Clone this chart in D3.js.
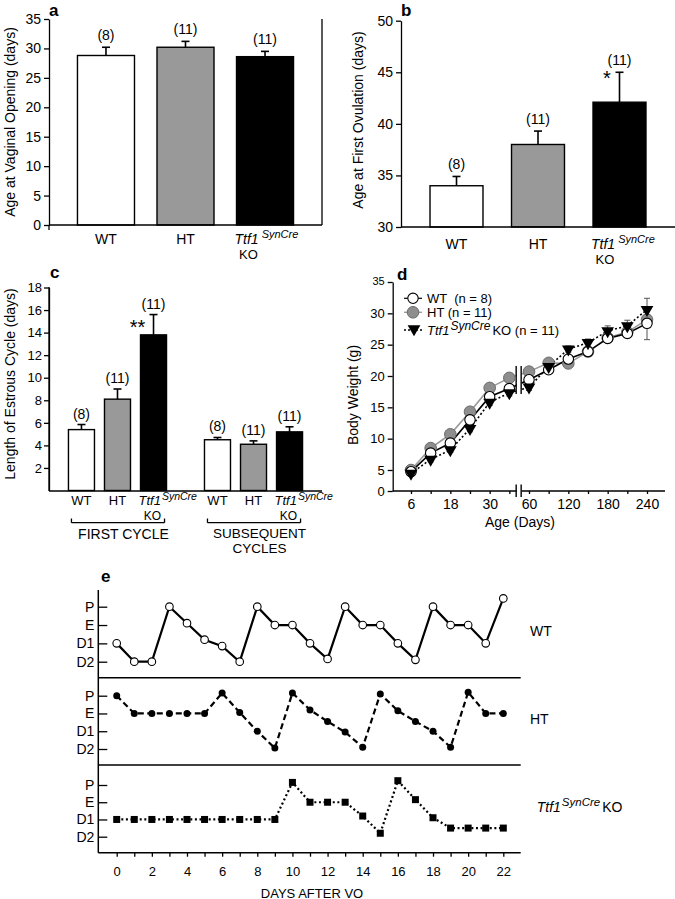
<!DOCTYPE html>
<html><head><meta charset="utf-8">
<script src="https://cdn.jsdelivr.net/npm/d3@7"></script>
<style>body{margin:0;background:#fff}svg{display:block;font-family:"Liberation Sans",Arial,Helvetica,sans-serif}</style>
</head><body><script>
// ---------- data ----------
const genotypes = ["WT", "HT", "KO"];
const nLabels = ["(8)", "(11)", "(11)"];
// a: age at vaginal opening
const vaginalOpening = [28.8, 30.2, 28.6];
const vaginalOpeningErr = [1.4, 1.0, 0.9];
// b: age at first ovulation
const firstOvulation = [34.0, 38.0, 42.1];
const firstOvulationErr = [0.9, 1.3, 2.9];
const ovulationSig = ["", "", "*"];
// c: length of estrous cycle
const cycleGroups = ["FIRST CYCLE", "SUBSEQUENT CYCLES"];
const firstCycle = [5.4, 8.1, 13.8];
const firstCycleErr = [0.45, 0.9, 1.8];
const firstCycleSig = ["", "", "**"];
const subsequentCycles = [4.5, 4.1, 5.2];
const subsequentCyclesErr = [0.2, 0.3, 0.45];
const subsequentSig = ["", "", ""];
// d: body weight
const ages = ["6", "12", "18", "24", "30", "36", "60", "90", "120", "150", "180", "210", "240"];
const ageTickLabels = ["6", "18", "30", "60", "120", "180", "240"];
const weightWT = [4.6, 7.7, 9.3, 13.0, 16.7, 18.0, 19.4, 21.0, 22.7, 23.9, 26.0, 26.8, 28.4];
const weightWTErr = [0.3, 0.4, 0.4, 0.5, 0.5, 0.5, 0.5, 0.5, 0.5, 0.5, 0.6, 0.6, 2.6];
const weightHT = [5.0, 8.5, 10.7, 14.3, 18.1, 19.7, 20.7, 22.1, 22.0, 23.9, 26.1, 27.0, 29.0];
const weightHTErr = [0.3, 0.4, 0.4, 0.5, 0.5, 0.5, 0.5, 0.5, 0.5, 0.5, 0.6, 0.6, 0.8];
const weightKO = [4.2, 6.7, 8.2, 11.6, 15.8, 17.3, 18.2, 21.5, 24.3, 25.3, 27.2, 28.0, 30.6];
const weightKOErr = [0.3, 0.4, 0.4, 0.5, 0.5, 0.5, 0.5, 0.5, 0.5, 0.6, 0.8, 0.9, 1.8];
// e: estrous stages after VO (0 = D2, 1 = D1, 2 = E, 3 = P)
const daysAfterVO = [0, 1, 2, 3, 4, 5, 6, 7, 8, 9, 10, 11, 12, 13, 14, 15, 16, 17, 18, 19, 20, 21, 22];
const stageNames = ["D2", "D1", "E", "P"];
const stageValues = [0, 1, 2, 3];
const stageWT = [1, 0, 0, 3, 2.1, 1.2, 0.85, 0, 3, 2, 2, 1, 0.15, 3, 2, 2, 1, 0.1, 3, 2, 2, 1, 3.45];
const stageHT = [3, 2, 2, 2, 2, 2, 3.15, 2.05, 1, 0.05, 3.15, 2.2, 1.55, 0.95, 0.1, 3.1, 2.15, 1.55, 1, 0.1, 3.2, 2, 2];
const stageKO = [1, 1, 1, 1, 1, 1, 1, 1, 1, 1, 3.15, 2, 2, 2, 1.2, 0.2, 3.25, 2.15, 1.1, 0.5, 0.5, 0.5, 0.5];

// ---------- setup ----------
const svg = d3.select("body").append("svg").attr("width", 675).attr("height", 899);
const fills = {WT: "#fff", HT: "#999", KO: "#000"};

function styleAxis(g, size) {
  g.attr("font-size", size).attr("font-family", null);
  g.selectAll("path,line").attr("stroke", "#000").attr("stroke-width", 1.3);
  g.selectAll("text").attr("fill", "#000");
  return g;
}
function hline(x1, x2, y, w) {
  svg.append("line").attr("x1", x1).attr("x2", x2).attr("y1", y).attr("y2", y)
    .attr("stroke", "#000").attr("stroke-width", w || 1.3);
}
function vline(x, y1, y2, w, col) {
  svg.append("line").attr("x1", x).attr("x2", x).attr("y1", y1).attr("y2", y2)
    .attr("stroke", col || "#000").attr("stroke-width", w || 1.3);
}
function text(x, y, s, opts) {
  opts = opts || {};
  const t = svg.append("text").attr("x", x).attr("y", y).text(s)
    .attr("font-size", opts.size || 14).attr("text-anchor", opts.anchor || "start").attr("fill", "#000");
  if (opts.bold) t.attr("font-weight", "bold");
  if (opts.rotate) t.attr("transform", `rotate(-90 ${x} ${y})`);
  return t;
}
function ttfText(x, y, size, supSize, dx, rest) {
  const t = svg.append("text").attr("x", x).attr("y", y).attr("font-size", size).attr("fill", "#000");
  t.append("tspan").attr("font-style", "italic").text("Ttf1");
  t.append("tspan").attr("font-style", "italic").attr("font-size", supSize).attr("dx", dx).attr("dy", -size * 0.42).text("SynCre");
  if (rest) t.append("tspan").attr("dy", size * 0.42).attr("dx", 2).style("white-space", "pre").text(rest);
  return t;
}
function catLabels(xScale, baseline, size, supSize, supDx) {
  genotypes.forEach(c => {
    if (c === "KO") {
      const x0 = xScale(c);
      ttfText(x0 - 2, baseline, size, supSize, supDx);
      text(x0 + 12, baseline + 14.5, "KO", {size: size - 1, anchor: "middle"});
    } else {
      text(xScale(c) + xScale.bandwidth() / 2, baseline, c, {size, anchor: "middle"});
    }
  });
}
function bars(xScale, y, base, vals, errs, sig, nOff, sigOff) {
  const data = genotypes.map((c, i) => ({c, v: vals[i], e: errs[i], n: nLabels[i], s: sig ? sig[i] : ""}));
  const g = svg.append("g");
  const bw = xScale.bandwidth();
  g.selectAll("line.err").data(data).join("line").attr("class", "err")
    .attr("x1", d => xScale(d.c) + bw / 2).attr("x2", d => xScale(d.c) + bw / 2)
    .attr("y1", d => y(d.v)).attr("y2", d => y(d.v + d.e)).attr("stroke", "#000").attr("stroke-width", 1.6);
  g.selectAll("line.cap").data(data).join("line").attr("class", "cap")
    .attr("x1", d => xScale(d.c) + bw / 2 - 4).attr("x2", d => xScale(d.c) + bw / 2 + 4)
    .attr("y1", d => y(d.v + d.e)).attr("y2", d => y(d.v + d.e)).attr("stroke", "#000").attr("stroke-width", 1.6);
  g.selectAll("rect").data(data).join("rect")
    .attr("x", d => xScale(d.c)).attr("width", bw)
    .attr("y", d => y(d.v)).attr("height", d => y(base) - y(d.v))
    .attr("fill", d => fills[d.c]).attr("stroke", "#000").attr("stroke-width", 1.4);
  g.selectAll("text.n").data(data).join("text").attr("class", "n")
    .attr("x", d => xScale(d.c) + bw / 2).attr("y", d => y(d.v + d.e) - nOff)
    .attr("text-anchor", "middle").attr("font-size", 14).text(d => d.n);
  g.selectAll("text.sig").data(data.filter(d => d.s)).join("text").attr("class", "sig")
    .attr("x", d => xScale(d.c) + bw / 2 - sigOff[0]).attr("y", d => y(d.v + d.e) + sigOff[1])
    .attr("text-anchor", "middle").attr("font-size", 20).text(d => d.s);
}

// ---------- panel a ----------
{
  const y = d3.scaleLinear().domain([0, 35]).range([225, 19]);
  const x = d3.scaleBand().domain(genotypes).range([49, 322]).paddingInner(0.283).paddingOuter(0.358);
  bars(x, y, 0, vaginalOpening, vaginalOpeningErr, null, 7, [0, 0]);
  styleAxis(svg.append("g").attr("transform", "translate(49,0)")
    .call(d3.axisLeft(y).tickValues([0, 5, 10, 15, 20, 25, 30, 35]).tickSize(5).tickSizeOuter(0).tickPadding(3)), 14);
  hline(49, 322, 225);
  vline(49, 225, 230);
  vline(322, 19, 225);
  catLabels(x, 244, 14, 11, 3);
  text(49, 16, "a", {size: 17, bold: true});
  text(15, 122, "Age at Vaginal Opening (days)", {size: 14, anchor: "middle", rotate: true});
}
// ---------- panel b ----------
{
  const y = d3.scaleLinear().domain([30, 50]).range([227, 20.7]);
  const x = d3.scaleBand().domain(genotypes).range([401, 675]).paddingInner(0.35).paddingOuter(0.356);
  bars(x, y, 30, firstOvulation, firstOvulationErr, ovulationSig, 7, [12.5, 13]);
  styleAxis(svg.append("g").attr("transform", "translate(401,0)")
    .call(d3.axisLeft(y).tickValues([30, 35, 40, 45, 50]).tickSize(5).tickSizeOuter(0).tickPadding(3)), 14);
  hline(401, 675, 227);
  catLabels(x, 249, 14, 11, 3);
  text(401, 16, "b", {size: 17, bold: true});
  text(363, 120, "Age at First Ovulation (days)", {size: 14, anchor: "middle", rotate: true});
}
// ---------- panel c ----------
{
  const y = d3.scaleLinear().domain([0, 18]).range([490.5, 287.5]);
  const outer = d3.scaleBand().domain(cycleGroups).range([49, 322]).paddingInner(0.279).paddingOuter(0.143);
  const sets = [[firstCycle, firstCycleErr, firstCycleSig], [subsequentCycles, subsequentCyclesErr, subsequentSig]];
  cycleGroups.forEach((gName, gi) => {
    const o = outer(gName);
    const inner = d3.scaleBand().domain(genotypes).range([o, o + outer.bandwidth()]).paddingInner(0.278).paddingOuter(0);
    bars(inner, y, 0, sets[gi][0], sets[gi][1], sets[gi][2], 6, [16, 19]);
    catLabels(inner, 505, 13, 10.5, 1);
    // bracket
    const bx1 = o + 3, bx2 = o + outer.bandwidth() - 2;
    hline(bx1, bx2, 522.7, 1.3);
    vline(bx1, 518.5, 522.7);
    vline(bx2, 518.5, 522.7);
  });
  const c1 = outer(cycleGroups[0]) + outer.bandwidth() / 2;
  const c2 = outer(cycleGroups[1]) + outer.bandwidth() / 2;
  text(c1 + 6, 539, "FIRST CYCLE", {size: 14, anchor: "middle"});
  text(c2 + 6, 537.5, "SUBSEQUENT", {size: 13.5, anchor: "middle"});
  text(c2 + 6, 553, "CYCLES", {size: 13.5, anchor: "middle"});
  styleAxis(svg.append("g").attr("transform", "translate(49,0)")
    .call(d3.axisLeft(y).tickValues([2, 4, 6, 8, 10, 12, 14, 16, 18]).tickSize(5).tickSizeOuter(0).tickPadding(2)), 13);
  vline(49, 287, 491);
  hline(49, 322, 491);
  text(50, 278, "c", {size: 17, bold: true});
  text(15, 384, "Length of Estrous Cycle (days)", {size: 14, anchor: "middle", rotate: true});
}
// ---------- panel d ----------
{
  const y = d3.scaleLinear().domain([0, 5, 35]).range([491, 470, 282]);
  const x = d3.scalePoint().domain(ages).range([411, 647]);
  const ax = styleAxis(svg.append("g").attr("transform", "translate(392.7,0)")
    .call(d3.axisLeft(y).tickValues([0, 5, 10, 15, 20, 25, 30, 35]).tickSize(5).tickSizeOuter(0).tickPadding(3)), 13);
  ax.selectAll(".tick text").filter(d => d === 35).attr("font-size", 11).attr("dy", "0.2em");
  const bx = styleAxis(svg.append("g").attr("transform", "translate(0,491)")
    .call(d3.axisBottom(x).tickSize(3).tickSizeOuter(0).tickPadding(5)
      .tickFormat(d => ageTickLabels.includes(d) ? d : "")), 14);
  bx.select(".domain").remove();
  hline(392.7, 665, 491);
  // x-axis break
  const brk = (x("36") + x("60")) / 2;
  svg.append("rect").attr("x", brk - 2.5).attr("y", 484).attr("width", 5).attr("height", 12).attr("fill", "#fff");
  vline(brk - 3, 484.5, 497, 1.4);
  vline(brk + 2, 484.5, 497, 1.4);

  const series = [
    {vals: weightHT, errs: weightHTErr, line: "#9a9a9a", dash: null},
    {vals: weightWT, errs: weightWTErr, line: "#000", dash: null},
    {vals: weightKO, errs: weightKOErr, line: "#000", dash: "2,2.2"}
  ];
  const line = d3.line().x((d, i) => x(ages[i])).y(d => y(d));
  series.forEach(s => {
    svg.append("path").attr("d", line(s.vals)).attr("fill", "none").attr("stroke", s.line)
      .attr("stroke-width", 1.6).attr("stroke-dasharray", s.dash);
  });
  // data-line break
  svg.append("rect").attr("x", brk - 2.5).attr("y", 366).attr("width", 5).attr("height", 28).attr("fill", "#fff");
  vline(brk - 3, 366, 394, 1.4);
  vline(brk + 2, 366, 394, 1.4);

  const errG = svg.append("g");
  series.forEach(s => {
    s.vals.forEach((v, i) => {
      const cx = x(ages[i]);
      errG.append("line").attr("x1", cx).attr("x2", cx).attr("y1", y(v - s.errs[i])).attr("y2", y(v + s.errs[i]))
        .attr("stroke", s.line === "#9a9a9a" ? "#777" : "#555").attr("stroke-width", 1);
      [v - s.errs[i], v + s.errs[i]].forEach(e => errG.append("line").attr("x1", cx - 3).attr("x2", cx + 3)
        .attr("y1", y(e)).attr("y2", y(e)).attr("stroke", "#555").attr("stroke-width", 1));
    });
  });
  svg.append("g").selectAll("circle").data(weightHT).join("circle")
    .attr("cx", (d, i) => x(ages[i])).attr("cy", d => y(d)).attr("r", 5.8)
    .attr("fill", "#8e8e8e").attr("stroke", "#6a6a6a").attr("stroke-width", 1);
  svg.append("g").selectAll("circle").data(weightWT).join("circle")
    .attr("cx", (d, i) => x(ages[i])).attr("cy", d => y(d)).attr("r", 5.2)
    .attr("fill", "#fff").attr("stroke", "#000").attr("stroke-width", 1.1);
  const tri = d3.symbol().type(d3.symbolTriangle).size(70);
  svg.append("g").selectAll("path").data(weightKO).join("path")
    .attr("d", tri).attr("transform", (d, i) => `translate(${x(ages[i])},${y(d)}) rotate(180)`)
    .attr("fill", "#000");
  // legend
  hline(404, 422, 298.3, 1.2);
  svg.append("circle").attr("cx", 413).attr("cy", 298.3).attr("r", 5.2).attr("fill", "#fff").attr("stroke", "#000").attr("stroke-width", 1.1);
  svg.append("line").attr("x1", 404).attr("x2", 422).attr("y1", 312.3).attr("y2", 312.3).attr("stroke", "#9a9a9a").attr("stroke-width", 1.4);
  svg.append("circle").attr("cx", 413).attr("cy", 312.3).attr("r", 5.8).attr("fill", "#8e8e8e").attr("stroke", "#6a6a6a");
  svg.append("line").attr("x1", 404).attr("x2", 424).attr("y1", 330).attr("y2", 330).attr("stroke", "#000").attr("stroke-width", 1.4).attr("stroke-dasharray", "2,2");
  svg.append("path").attr("d", tri).attr("transform", "translate(414,329) rotate(180)").attr("fill", "#000");
  text(427, 303, "WT  (n = 8)", {size: 13}).style("white-space", "pre");
  text(427, 317, "HT (n = 11)", {size: 13});
  ttfText(427, 335, 13, 12, 1, "KO (n = 11)");
  text(397, 280, "d", {size: 17, bold: true});
  text(357.5, 395, "Body Weight (g)", {size: 14, anchor: "middle", rotate: true});
  text(520, 527, "Age (Days)", {size: 14, anchor: "middle"});
}
// ---------- panel e ----------
{
  const x = d3.scaleLinear().domain([0, 22]).range([116.7, 503.3]);
  const panels = [
    {vals: stageWT, range: [661.7, 606.7], dash: null, marker: "openCircle"},
    {vals: stageHT, range: [749, 695.7], dash: "6,3.5", marker: "dot"},
    {vals: stageKO, range: [836.7, 785], dash: "2,2.6", marker: "square"}
  ];
  panels.forEach(p => {
    const y = d3.scaleLinear().domain([0, 3]).range(p.range);
    const ag = styleAxis(svg.append("g").attr("transform", "translate(98.3,0)")
      .call(d3.axisLeft(y).tickValues(stageValues).tickFormat(d => stageNames[d])
        .tickSizeInner(-9).tickSizeOuter(0).tickPadding(4)), 14);
    ag.select(".domain").remove();
    const line = d3.line().x((d, i) => x(daysAfterVO[i])).y(d => y(d));
    svg.append("path").attr("d", line(p.vals)).attr("fill", "none").attr("stroke", "#000")
      .attr("stroke-width", 2.2).attr("stroke-dasharray", p.dash);
    const g = svg.append("g");
    if (p.marker === "openCircle") {
      g.selectAll("circle").data(p.vals).join("circle").attr("cx", (d, i) => x(daysAfterVO[i])).attr("cy", d => y(d))
        .attr("r", 3.8).attr("fill", "#fff").attr("stroke", "#000").attr("stroke-width", 1.1);
    } else if (p.marker === "dot") {
      g.selectAll("circle").data(p.vals).join("circle").attr("cx", (d, i) => x(daysAfterVO[i])).attr("cy", d => y(d))
        .attr("r", 3.5).attr("fill", "#000");
    } else {
      g.selectAll("rect").data(p.vals).join("rect").attr("x", (d, i) => x(daysAfterVO[i]) - 3.5).attr("y", d => y(d) - 3.5)
        .attr("width", 7).attr("height", 7).attr("fill", "#000");
    }
  });
  vline(98.3, 590, 852.7, 1.5);
  hline(98.3, 520.7, 677.7, 1.5);
  hline(98.3, 520.7, 765, 1.5);
  hline(98.3, 520.7, 852.7, 1.5);
  const xg = styleAxis(svg.append("g").attr("transform", "translate(0,852.7)")
    .call(d3.axisBottom(x).tickValues(daysAfterVO).tickSize(4).tickSizeOuter(0).tickPadding(10)
      .tickFormat(d => d % 2 === 0 ? d : "")), 13);
  xg.select(".domain").remove();
  text(312, 897.5, "DAYS AFTER VO", {size: 13, anchor: "middle"});
  text(101, 582, "e", {size: 17, bold: true});
  text(530, 635.7, "WT", {size: 14});
  text(530, 724, "HT", {size: 14});
  ttfText(536.7, 811.7, 14, 11.5, 1, "KO");
}
</script></body></html>
